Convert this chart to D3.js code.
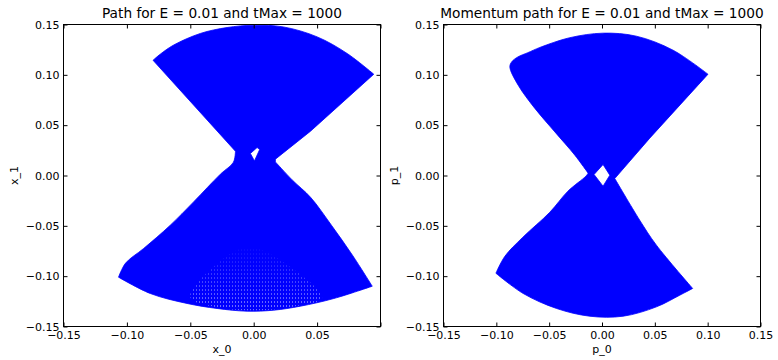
<!DOCTYPE html>
<html>
<head>
<meta charset="utf-8">
<script src="https://cdn.jsdelivr.net/npm/d3@7"></script>
<style>
  body { margin: 0; background: #fff; }
  text { font-family: "DejaVu Sans", sans-serif; fill: #000; }
</style>
</head>
<body>
<svg id="chart" width="778" height="360"></svg>
<script>
// Tick values and labels
const yTicks = [-0.15, -0.10, -0.05, 0.00, 0.05, 0.10, 0.15];
const yTickLabels = ["−0.15", "−0.10", "−0.05", "0.00", "0.05", "0.10", "0.15"];
const xTicksPath = [-0.15, -0.10, -0.05, 0.00, 0.05, 0.10];
const xTickLabelsPath = ["−0.15", "−0.10", "−0.05", "0.00", "0.05", ""];
const xTicksMom = [-0.15, -0.10, -0.05, 0.00, 0.05, 0.10, 0.15];
const xTickLabelsMom = ["−0.15", "−0.10", "−0.05", "0.00", "0.05", "0.10", "0.15"];

// Outline of the region swept by the position path (x_0, x_1), edge by edge
const pathUpperArc = [[-0.0794, 0.1145], [-0.0737, 0.1205], [-0.0634, 0.1294], [-0.0421, 0.1411],
                      [-0.0210, 0.1470], [0.0000, 0.1493], [0.0234, 0.1476], [0.0501, 0.1377],
                      [0.0737, 0.1212], [0.0947, 0.1006]];
const pathUpperRight = [[0.0947, 0.1006], [0.0448, 0.0440], [0.0171, 0.0162], [0.0171, 0.0135]];
const pathLowerRight = [[0.0171, 0.0135], [0.0306, -0.0047], [0.0448, -0.0216], [0.0613, -0.0494],
                        [0.0779, -0.0792], [0.0935, -0.1100]];
const pathLowerArc = [[0.0935, -0.1100], [0.0632, -0.1222], [0.0369, -0.1298], [0.0158, -0.1338],
                      [-0.0052, -0.1348], [-0.0289, -0.1321], [-0.0526, -0.1271], [-0.0816, -0.1172],
                      [-0.1066, -0.1010]];
const pathLowerLeft = [[-0.1066, -0.1010], [-0.1010, -0.0870], [-0.0868, -0.0725], [-0.0658, -0.0494],
                       [-0.0474, -0.0262], [-0.0263, 0.0013], [-0.0160, 0.0132], [-0.0144, 0.0241]];
const pathUpperLeft = [[-0.0144, 0.0241], [-0.0794, 0.1145]];
// Small gap the path never crosses near the origin
const pathHole = [[-0.0026, 0.0219], [0.0027, 0.0278], [0.0047, 0.0258], [0.0006, 0.0145]];
// Area near the bottom where successive passes of the path are spaced apart
const pathSparse = [[-0.050, -0.121], [-0.032, -0.091], [-0.004, -0.071], [0.029, -0.091],
                    [0.054, -0.122], [0.037, -0.129], [0.016, -0.133], [-0.005, -0.134],
                    [-0.029, -0.131]];

// Outline of the region swept by the momentum path (p_0, p_1)
const momUpper = [[-0.0131, 0.0023], [-0.0257, 0.0202], [-0.0446, 0.0433], [-0.0635, 0.0666],
                  [-0.0793, 0.0897], [-0.0872, 0.1079], [-0.0852, 0.1132], [-0.0796, 0.1178],
                  [-0.0702, 0.1220], [-0.0588, 0.1272], [-0.0304, 0.1369], [0.0008, 0.1414],
                  [0.0326, 0.1384], [0.0672, 0.1245], [0.1003, 0.1006]];
const momUpperRight = [[0.1003, 0.1006], [0.0452, 0.0371], [0.0121, -0.0030]];
const momLowerRight = [[0.0121, -0.0030], [0.0357, -0.0444], [0.0515, -0.0692], [0.0858, -0.1122]];
const momLowerArc = [[0.0858, -0.1122], [0.0736, -0.1189], [0.0515, -0.1305], [0.0199, -0.1398],
                     [-0.0115, -0.1398], [-0.0430, -0.1321], [-0.0746, -0.1172], [-0.1004, -0.0971]];
const momLowerLeft = [[-0.1004, -0.0971], [-0.0919, -0.0802], [-0.0749, -0.0613], [-0.0494, -0.0365],
                      [-0.0323, -0.0156], [-0.0153, -0.0007], [-0.0131, 0.0023]];
const momHole = [[-0.0075, 0.0010], [0.0010, 0.0109], [0.0074, 0.0003], [0.0010, -0.0106]];

const svg = d3.select("#chart");
const BLUE = "#0000ff";
const smooth = d3.curveCatmullRom.alpha(0.5);

// Sparse-stroke texture: short white dashes between neighbouring passes,
// fading out towards the top of the sparse area
const defs = svg.append("defs");
const pat = defs.append("pattern").attr("id", "sparse").attr("patternUnits", "userSpaceOnUse")
  .attr("width", 3).attr("height", 4);
pat.append("rect").attr("x", 1).attr("y", 1).attr("width", 1).attr("height", 2)
  .attr("fill", "#ffffff").attr("fill-opacity", 0.5);
const grad = defs.append("linearGradient").attr("id", "sparseFade")
  .attr("x1", 0).attr("y1", 0).attr("x2", 0).attr("y2", 1);
grad.append("stop").attr("offset", 0).attr("stop-color", "#fff").attr("stop-opacity", 0.05);
grad.append("stop").attr("offset", 1).attr("stop-color", "#fff").attr("stop-opacity", 0.9);
const mask = defs.append("mask").attr("id", "sparseMask").attr("maskContentUnits", "objectBoundingBox");
mask.append("rect").attr("width", 1).attr("height", 1).attr("fill", "url(#sparseFade)");

function panel(opts) {
  const x = d3.scaleLinear().domain(opts.xDomain).range([opts.left, opts.right]);
  const y = d3.scaleLinear().domain([-0.15, 0.15]).range([opts.bottom, opts.top]);
  const g = svg.append("g");

  // Join the edges into one closed outline
  const outline = (edges) => edges.map((e, i) => {
    const d = d3.line().x(p => x(p[0])).y(p => y(p[1])).curve(e.curve)(e.pts);
    return i === 0 ? d : "L" + d.slice(1);
  }).join("") + "Z";
  const poly = (pts) => d3.line().x(p => x(p[0])).y(p => y(p[1]))(pts) + "Z";

  g.append("path")
    .attr("d", outline(opts.edges) + poly(opts.hole))
    .attr("fill", BLUE)
    .attr("fill-rule", "evenodd")
    .attr("stroke", BLUE)
    .attr("stroke-width", 0.8);

  if (opts.sparse) {
    g.append("path")
      .attr("d", d3.line().x(p => x(p[0])).y(p => y(p[1])).curve(d3.curveCatmullRomClosed)(opts.sparse))
      .attr("fill", "url(#sparse)")
      .attr("mask", "url(#sparseMask)");
  }

  const fmt = (ticks, labels) => v => {
    const i = ticks.findIndex(t => Math.abs(t - v) < 1e-9);
    return i >= 0 ? labels[i] : "";
  };

  const tick = 4;
  g.append("g").attr("transform", `translate(0,${opts.bottom})`)
    .call(d3.axisBottom(x).tickValues(opts.xTicks).tickSize(-tick).tickSizeOuter(0)
      .tickPadding(5).tickFormat(fmt(opts.xTicks, opts.xLabels)));
  g.append("g").attr("transform", `translate(0,${opts.top})`)
    .call(d3.axisTop(x).tickValues(opts.xTicks).tickSize(-tick).tickSizeOuter(0).tickFormat(""));
  g.append("g").attr("transform", `translate(${opts.left},0)`)
    .call(d3.axisLeft(y).tickValues(yTicks).tickSize(-tick).tickSizeOuter(0)
      .tickPadding(4).tickFormat(fmt(yTicks, yTickLabels)));
  g.append("g").attr("transform", `translate(${opts.right},0)`)
    .call(d3.axisRight(y).tickValues(yTicks).tickSize(-tick).tickSizeOuter(0).tickFormat(""));

  g.selectAll(".domain").remove();
  g.selectAll(".tick line").attr("stroke", "#000");
  g.selectAll(".tick text").attr("font-size", 11).attr("font-family", "DejaVu Sans, sans-serif").attr("fill", "#000");

  g.append("rect")
    .attr("x", opts.left).attr("y", opts.top)
    .attr("width", opts.right - opts.left).attr("height", opts.bottom - opts.top)
    .attr("fill", "none").attr("stroke", "#000").attr("stroke-width", 1);

  const cx = (opts.left + opts.right) / 2;
  g.append("text").attr("x", cx).attr("y", 18).attr("text-anchor", "middle")
    .attr("font-size", 13.7).text(opts.title);
  g.append("text").attr("x", cx).attr("y", 353).attr("text-anchor", "middle")
    .attr("font-size", 11).text(opts.xLabel);
  g.append("text").attr("transform", `translate(${opts.left - 46},${(opts.top + opts.bottom) / 2}) rotate(-90)`)
    .attr("text-anchor", "middle").attr("font-size", 11).text(opts.yLabel);
}

panel({
  xDomain: [-0.15, 0.10], left: 63.5, right: 380.5, top: 24.5, bottom: 326.5,
  edges: [
    { pts: pathUpperArc, curve: smooth },
    { pts: pathUpperRight, curve: d3.curveLinear },
    { pts: pathLowerRight, curve: smooth },
    { pts: pathLowerArc, curve: smooth },
    { pts: pathLowerLeft, curve: smooth },
    { pts: pathUpperLeft, curve: d3.curveLinear }
  ],
  hole: pathHole, sparse: pathSparse,
  xTicks: xTicksPath, xLabels: xTickLabelsPath,
  title: "Path for E = 0.01 and tMax = 1000", xLabel: "x_0", yLabel: "x_1"
});
panel({
  xDomain: [-0.15, 0.15], left: 443.5, right: 760.5, top: 24.5, bottom: 326.5,
  edges: [
    { pts: momUpper, curve: smooth },
    { pts: momUpperRight, curve: d3.curveLinear },
    { pts: momLowerRight, curve: smooth },
    { pts: momLowerArc, curve: smooth },
    { pts: momLowerLeft, curve: smooth }
  ],
  hole: momHole,
  xTicks: xTicksMom, xLabels: xTickLabelsMom,
  title: "Momentum path for E = 0.01 and tMax = 1000", xLabel: "p_0", yLabel: "p_1"
});
</script>
</body>
</html>
